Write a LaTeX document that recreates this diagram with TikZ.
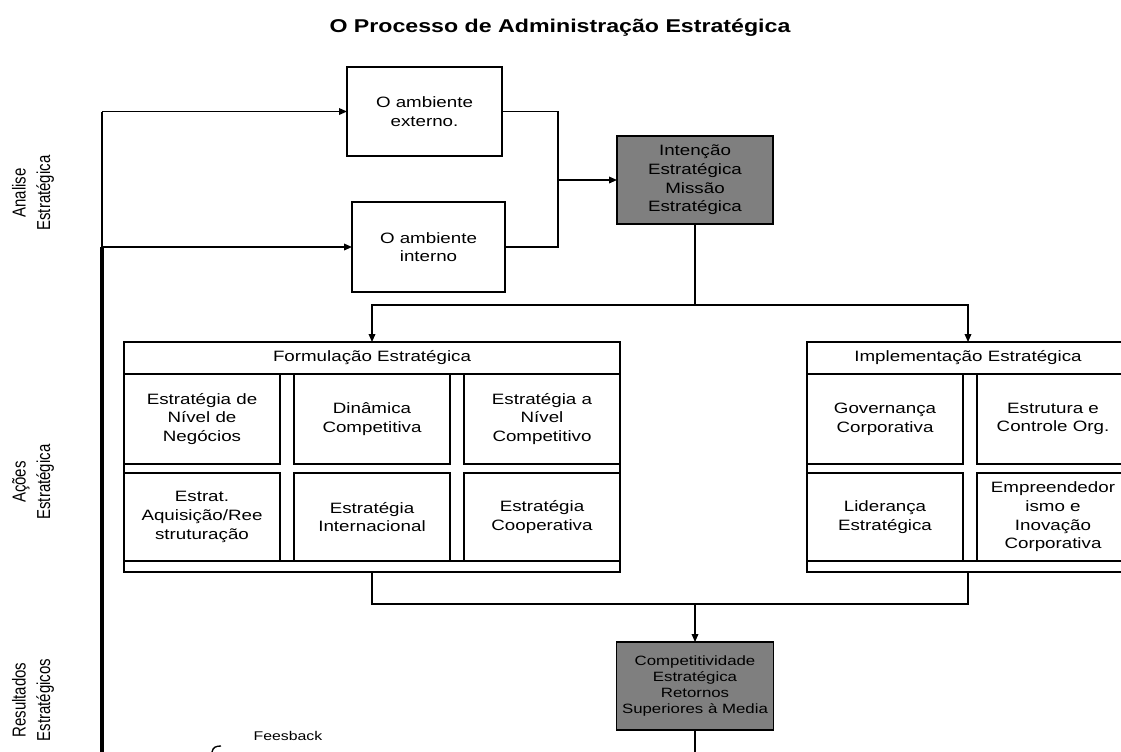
\documentclass[tikz,border=0pt]{standalone}
\usepackage{fontspec}
\setmainfont{Liberation Sans}[FakeStretch=1.25]
\newfontfamily\lblfont{Liberation Sans}
\usetikzlibrary{arrows.meta}
\definecolor{boxgray}{RGB}{127,127,127}
\begin{document}
\begin{tikzpicture}[x=0.75pt,y=-0.75pt,
  every node/.style={inner sep=0pt, outer sep=0pt},
  txt/.style={font=\fontsize{11.25}{14}\selectfont, align=center},
  box/.style={draw, line width=1pt, fill=white, txt},
  sz/.style 2 args={minimum width=#1*0.75pt, minimum height=#2*0.75pt},
  gbox/.style={box, fill=boxgray},
  ln/.style={line width=1pt},
  thickln/.style={line width=2.4pt},
  arr/.style={ln, -{Triangle[length=6pt,width=5pt]}},
  rotlbl/.style={xscale=1.25, rotate=90, font=\lblfont\fontsize{11.25}{14.7}\selectfont, align=center},
]
\fill[white] (0,0) rectangle (1121,751);
\clip (0,0) rectangle (1121,751);

% title
\node[font=\bfseries\fontsize{13.9}{16}\selectfont] (title) at (560,28) {O Processo de Administração Estratégica};

% side labels
\node[rotlbl] (lab1) at (33,193) {Analise\\Estratégica};
\node[rotlbl] (lab2) at (33,482) {Ações\\Estratégica};
\node[rotlbl] (lab3) at (33,700) {Resultados\\Estratégicos};

% analysis boxes
\node[box, sz={155}{89}] (ext) at (424.5,111.5) {O ambiente\\externo.};
\node[box, sz={153}{90}] (intb) at (428.5,247) {O ambiente\\interno};
\node[gbox, sz={156}{88}] (intn) at (695,180) {Intenção\\Estratégica\\Missão\\Estratégica};

% formulation block
\node[box, sz={496}{230}] (form) at (372,457) {};
\node[txt] (formh) at (372,358) {Formulação Estratégica};
\draw[ln] (124,374) -- (620,374);
\draw[ln] (124,561) -- (620,561);
\node[box, sz={156}{90}] (f11) at (202,419) {Estratégia de\\Nível de\\Negócios};
\node[box, sz={156}{90}] (f12) at (372,419) {Dinâmica\\Competitiva};
\node[box, sz={156}{90}] (f13) at (542,419) {Estratégia a\\Nível\\Competitivo};
\node[box, sz={156}{88}] (f21) at (202,517) {Estrat.\\Aquisição/Ree\\struturação};
\node[box, sz={156}{88}] (f22) at (372,517) {Estratégia\\Internacional};
\node[box, sz={156}{88}] (f23) at (542,517) {Estratégia\\Cooperativa};

% implementation block
\node[box, sz={322}{230}] (impl) at (968,457) {};
\node[txt] (implh) at (968,358) {Implementação Estratégica};
\draw[ln] (807,374) -- (1129,374);
\draw[ln] (807,561) -- (1129,561);
\node[box, sz={156}{90}] (i11) at (885,419) {Governança\\Corporativa};
\node[box, sz={152}{90}] (i12) at (1053,419) {Estrutura e\\Controle Org.};
\node[box, sz={156}{88}] (i21) at (885,517) {Liderança\\Estratégica};
\node[box, sz={152}{88}] (i22) at (1053,517) {Empreendedor\\ismo e\\Inovação\\Corporativa};

% results box
\node[gbox, sz={157}{88}, font=\fontsize{10.1}{12}\selectfont] (comp) at (695,686) {Competitividade\\Estratégica\\Retornos\\Superiores à Media};

\node[font=\fontsize{9.5}{11}\selectfont] (fb) at (288,736) {Feesback};

% coordinates
\coordinate (lt) at (102,111.5);
\coordinate (lm) at (102,247);
\coordinate (lb) at (102,752);
\coordinate (jx) at (558,180);
\coordinate (j1) at (695,305);
\coordinate (j2) at (695,604);
\coordinate (cb) at (695,752);

% connectors
\draw[ln] (lt) -- (lm);
\draw[arr] (lt) -- (ext.west);
\draw[arr] (lm) -- (intb.west);
\draw[thickln] (lm) -- (lb);
\draw[ln] (ext.east) -| (jx);
\draw[ln] (intb.east) -| (jx);
\draw[arr] (jx) -- (intn.west);
\draw[ln] (intn.south) -- (j1);
\draw[arr] (j1) -| (form.north);
\draw[arr] (j1) -| (impl.north);
\draw[ln] (form.south) |- (j2);
\draw[ln] (impl.south) |- (j2);
\draw[arr] (j2) -- (comp.north);
\draw[ln] (comp.south) -- (cb);
\draw[ln] (212,752) .. controls (213,747) and (216,746) .. (221,746);
\end{tikzpicture}
\end{document}
